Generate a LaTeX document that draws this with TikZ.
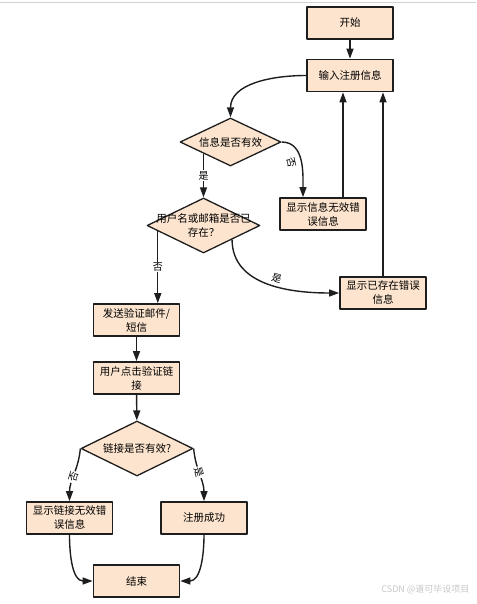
\documentclass[tikz,border=0pt]{standalone}
\usepackage{fontspec}
\newfontfamily\cjk{Noto Sans CJK SC}
\usetikzlibrary{arrows.meta,shapes.geometric,calc}
\definecolor{boxfill}{RGB}{252,228,206}
\definecolor{boxline}{RGB}{30,30,30}
\newcommand{\zw}[1]{\makebox[0pt]{#1}}
\begin{document}
\begin{tikzpicture}[x=1pt,y=-1pt,line join=round,>={Triangle[length=10pt,width=7pt]},font=\cjk\fontsize{10.5}{14}\selectfont]
    \tikzset{box/.style={draw=boxline,line width=1.7pt,fill=boxfill,minimum width=86pt,minimum height=32pt,inner sep=0pt,align=center},
        dia/.style={draw=boxline,line width=1.3pt,fill=boxfill,diamond,inner sep=0pt,align=center},
        flow/.style={->,line width=1.4pt,draw=boxline},
        tag/.style={font=\cjk\fontsize{10}{12}\selectfont,fill=white,inner sep=1pt}}
    \useasboundingbox (0,0) rectangle (476,604);
    \draw[gray!35,line width=1pt] (0,3) -- (476,3);
    % boxes and decisions
    \node[box] (start) at (350,23) {开始};
    \node[box] (input) at (350,75.5) {输入注册信息};
    \node[dia,minimum width=101pt,minimum height=48pt] (valid) at (230.5,142) {\zw{信息是否有效}};
    \node[box] (badinfo) at (323,214) {显示信息无效错\\误信息};
    \node[dia,minimum width=113pt,minimum height=55pt] (exists) at (203.5,225.5) {\zw{用户名或邮箱是否已}\\\zw{存在？}};
    \node[box] (dupinfo) at (383,293) {显示已存在错误\\信息};
    \node[box] (send) at (136.5,320) {发送验证邮件/\\短信};
    \node[box] (click) at (136.5,378) {用户点击验证链\\接};
    \node[dia,minimum width=112pt,minimum height=55pt] (link) at (137,448.5) {\zw{链接是否有效?}};
    \node[box] (badlink) at (69.5,518) {显示链接无效错\\误信息};
    \node[box] (done) at (204,518) {注册成功};
    \node[box] (stop) at (136.5,581) {结束};
    % connectors
    \draw[flow] (start) -- (input);
    \draw[flow] (input.west) to[out=180,in=90] (valid.north);
    \draw[flow] (valid.east) to[out=0,in=90] node[pos=0.5,sloped,below=4pt,tag,fill=none]{否} ([xshift=-20pt]badinfo.north);
    \draw[flow] ([xshift=20pt]badinfo.north) -- ([xshift=20pt]badinfo.north |- input.south);
    \draw[flow] (dupinfo.north) -- (dupinfo.north |- input.south);
    \draw[flow] (valid.south west -| exists.north) -- node[tag]{是} (exists.north);
    \coordinate (nobranch) at ($(exists.west)!0.2!(exists.south)$);
    \draw[flow] (nobranch) -- node[tag]{否} (nobranch |- send.north);
    \draw[flow] (exists.south east) to[out=-90,in=180] node[pos=0.55,sloped,above=2pt,tag,fill=none]{是} (dupinfo.west);
    \draw[flow] (send) -- (click);
    \draw[flow] (click) -- (link);
    \draw[flow] (link.west) to[out=-95,in=90] node[pos=0.55,sloped,tag]{否} (badlink.north);
    \draw[flow] (link.east) to[out=-85,in=90] node[pos=0.45,sloped,tag]{是} (done.north);
    \draw[flow] (badlink.south) to[out=-90,in=180] (stop.west);
    \draw[flow] (done.south) to[out=-90,in=0] (stop.east);
    \node[text=gray!45,font=\cjk\fontsize{9}{10}\selectfont,anchor=east] (mark) at (473,589) {CSDN @道可毕设项目};
\end{tikzpicture}
\end{document}
